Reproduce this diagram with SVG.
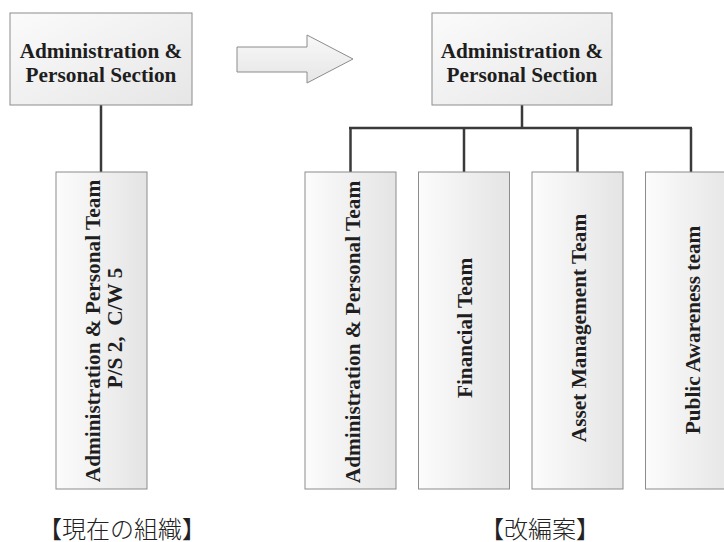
<svg xmlns="http://www.w3.org/2000/svg" width="724" height="542" viewBox="0 0 724 542">
  <defs>
    <linearGradient id="gBox" x1="0" y1="0" x2="1" y2="1">
      <stop offset="0" stop-color="#fbfbfb"/>
      <stop offset="1" stop-color="#e6e6e6"/>
    </linearGradient>
    <linearGradient id="gTall" x1="0" y1="0" x2="1" y2="0">
      <stop offset="0" stop-color="#fcfcfc"/>
      <stop offset="1" stop-color="#e4e4e4"/>
    </linearGradient>
    <linearGradient id="gArrow" x1="0" y1="0" x2="0" y2="1">
      <stop offset="0" stop-color="#f8f8f8"/>
      <stop offset="1" stop-color="#e6e6e6"/>
    </linearGradient>
  </defs>
  <style>
    .box { fill: url(#gBox); stroke: #8c8c8c; stroke-width: 1; }
    .tall { fill: url(#gTall); stroke: #8c8c8c; stroke-width: 1; }
    .lbl { font-family: "Liberation Serif", "Times New Roman", serif; font-weight: bold; font-size: 21.3px; fill: #1e1e1e; text-anchor: middle; }
    .cap { font-family: "Liberation Serif", "Noto Sans CJK JP", serif; font-weight: 300; font-size: 24px; fill: #222; text-anchor: middle; }
    .wire { stroke: #3a3a3a; stroke-width: 2.5; fill: none; }
  </style>
  <rect width="724" height="542" fill="#ffffff"/>

  <!-- connectors -->
  <g id="connectors">
    <line class="wire" x1="101" y1="105" x2="101" y2="172"/>
    <line class="wire" x1="522" y1="105" x2="522" y2="128"/>
    <line class="wire" x1="349" y1="128" x2="692" y2="128"/>
    <line class="wire" x1="350.5" y1="128" x2="350.5" y2="172"/>
    <line class="wire" x1="464" y1="128" x2="464" y2="172"/>
    <line class="wire" x1="577.5" y1="128" x2="577.5" y2="172"/>
    <line class="wire" x1="691" y1="128" x2="691" y2="172"/>
  </g>

  <!-- current organisation -->
  <g id="current-section">
    <rect class="box" x="10" y="13" width="182" height="92"/>
    <text class="lbl" x="101" y="58">Administration &amp;</text>
    <text class="lbl" x="101" y="82">Personal Section</text>
  </g>
  <g id="current-team">
    <rect class="tall" x="56" y="172" width="91" height="317"/>
    <text class="lbl" transform="translate(100 331) rotate(-90)">Administration &amp; Personal Team</text>
    <text class="lbl" transform="translate(122 328) rotate(-90)" xml:space="preserve">P/S 2,  C/W 5</text>
  </g>

  <!-- transition arrow -->
  <g id="arrow">
    <polygon points="237,47 307,47 307,35 353,59 307,83 307,72 237,72" fill="url(#gArrow)" stroke="#8c8c8c" stroke-width="1"/>
  </g>

  <!-- proposed organisation -->
  <g id="new-section">
    <rect class="box" x="432" y="13" width="180" height="92"/>
    <text class="lbl" x="522" y="58">Administration &amp;</text>
    <text class="lbl" x="522" y="82">Personal Section</text>
  </g>
  <g id="team-admin">
    <rect class="tall" x="305" y="172" width="91" height="317"/>
    <text class="lbl" transform="translate(360 332) rotate(-90)">Administration &amp; Personal Team</text>
  </g>
  <g id="team-financial">
    <rect class="tall" x="418.5" y="172" width="91" height="317"/>
    <text class="lbl" transform="translate(472 328) rotate(-90)">Financial Team</text>
  </g>
  <g id="team-asset">
    <rect class="tall" x="532" y="172" width="91" height="317"/>
    <text class="lbl" transform="translate(586 328) rotate(-90)">Asset Management Team</text>
  </g>
  <g id="team-public">
    <rect class="tall" x="645.5" y="172" width="91" height="317"/>
    <text class="lbl" transform="translate(700 330) rotate(-90)">Public Awareness team</text>
  </g>

  <!-- captions -->
  <text class="cap" x="122" y="538">【現在の組織】</text>
  <text class="cap" x="540" y="538">【改編案】</text>
</svg>
